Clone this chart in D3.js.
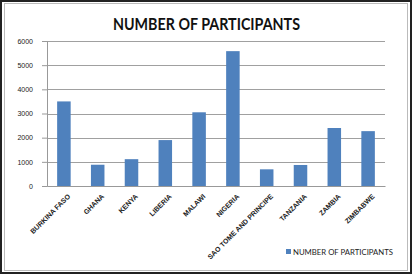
<!DOCTYPE html>
<html>
<head>
<meta charset="utf-8">
<script src="https://cdn.jsdelivr.net/npm/d3@7"></script>
<style>
  body { margin: 0; background: #fff; }
  svg { display: block; font-family: Lato, "Open Sans", sans-serif; }
</style>
</head>
<body>
<div id="wrapper"></div>
<script>
const countries = ["BURKINA FASO", "GHANA", "KENYA", "LIBERIA", "MALAWI", "NIGERIA",
  "SAO TOME AND PRINCIPE", "TANZANIA", "ZAMBIA", "ZIMBABWE"]
const participants = [3500, 880, 1110, 1900, 3050, 5580, 690, 870, 2400, 2270]
const yTicks = [0, 1000, 2000, 3000, 4000, 5000, 6000]
const seriesName = "NUMBER OF PARTICIPANTS"

const width = 412, height = 274
const margin = { top: 41, right: 27, bottom: 88, left: 47 }
const boundedWidth = width - margin.left - margin.right
const boundedHeight = height - margin.top - margin.bottom

const svg = d3.select("#wrapper").append("svg")
  .attr("width", width).attr("height", height)

// frame
svg.append("rect").attr("x", 1).attr("y", 1).attr("width", width - 2).attr("height", height - 2)
  .attr("fill", "#fff").attr("stroke", "#222").attr("stroke-width", 2)
svg.append("rect").attr("x", 4.5).attr("y", 3.5).attr("width", width - 9).attr("height", height - 7)
  .attr("fill", "none").attr("stroke", "#bbb").attr("stroke-width", 1)

// title, squeezed to the narrow width of the original font
svg.append("text")
  .attr("x", 113).attr("y", 30)
  .attr("textLength", 187).attr("lengthAdjust", "spacingAndGlyphs")
  .style("font-size", "17px").style("font-weight", "bold").attr("fill", "#111")
  .text(seriesName)

const bounds = svg.append("g").attr("transform", `translate(${margin.left},${margin.top})`)

const x = d3.scaleBand().domain(countries).range([0, boundedWidth]).paddingInner(0.6).paddingOuter(0.3)
const y = d3.scaleLinear().domain([0, 6000]).range([boundedHeight, 0])

// gridlines
bounds.append("g").selectAll("line").data(yTicks.slice(1)).join("line")
  .attr("x1", 0).attr("x2", boundedWidth)
  .attr("y1", d => Math.round(y(d)) + 0.5).attr("y2", d => Math.round(y(d)) + 0.5)
  .attr("stroke", "#a0a0a0").attr("stroke-width", 1)

// y axis
const yAxis = bounds.append("g")
  .call(d3.axisLeft(y).tickValues(yTicks).tickSize(5).tickFormat(d3.format("d")))
yAxis.select(".domain").attr("stroke", "#999")
yAxis.selectAll(".tick line").attr("stroke", "#999")
yAxis.selectAll("text").style("font-size", "7px").attr("fill", "#222").attr("x", -14)

// bars
bounds.append("g").selectAll("rect").data(participants).join("rect")
  .attr("x", (d, i) => x(countries[i]))
  .attr("y", d => y(d))
  .attr("width", x.bandwidth())
  .attr("height", d => boundedHeight - y(d))
  .attr("fill", "#4f81bd")

// x axis
const xAxis = bounds.append("g").attr("transform", `translate(0,${boundedHeight})`)
  .call(d3.axisBottom(x).tickSize(0).tickSizeOuter(0))
xAxis.select(".domain").attr("stroke", "#999")
xAxis.selectAll("text")
  .style("font-size", "7px").style("font-weight", "bold").attr("fill", "#222")
  .attr("text-anchor", "end")
  .attr("dy", "0.35em")
  .attr("transform", "translate(3,7) rotate(-45)")

// legend
const legend = svg.append("g").attr("transform", "translate(286,252)")
legend.append("rect").attr("x", 0).attr("y", -3).attr("width", 5).attr("height", 5).attr("fill", "#4f81bd")
legend.append("text").attr("x", 7).attr("y", 0).attr("dy", "0.35em")
  .attr("textLength", 100).attr("lengthAdjust", "spacingAndGlyphs")
  .style("font-size", "8px").attr("fill", "#222").text(seriesName)
</script>
</body>
</html>
